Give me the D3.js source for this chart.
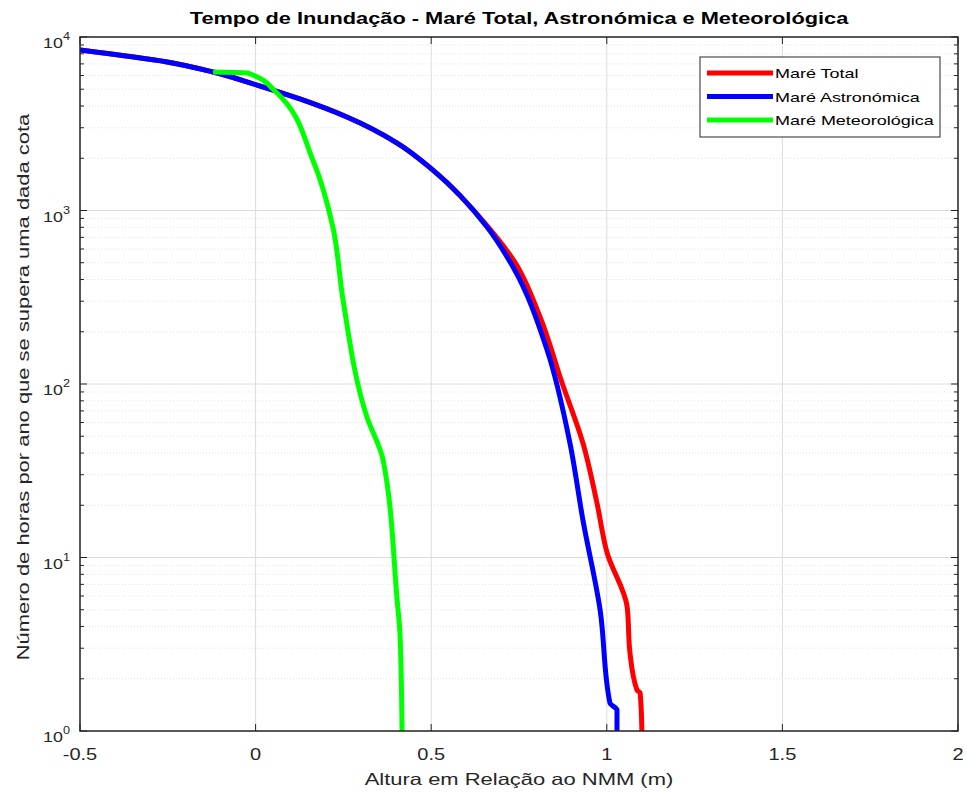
<!DOCTYPE html>
<html><head><meta charset="utf-8">
<script src="https://cdn.jsdelivr.net/npm/d3@7"></script>
<style>body{margin:0;background:#fff;} svg{display:block;font-family:"Liberation Sans",Arial,sans-serif;}</style>
</head><body>
<svg id="c" width="967" height="793"></svg>
<script>
const titleText = "Tempo de Inundação - Maré Total, Astronómica e Meteorológica";
const xLabelText = "Altura em Relação ao NMM (m)";
const yLabelText = "Número de horas por ano que se supera uma dada cota";
const seriesNames = ["Maré Total", "Maré Astronómica", "Maré Meteorológica"];
const xTicks = [-0.5, 0, 0.5, 1, 1.5, 2];
const xTickLabels = ["-0.5", "0", "0.5", "1", "1.5", "2"];
const yTickExps = [0, 1, 2, 3, 4];

// Maré Astronómica (x in m, log10 of hours per year)
const astroX = [-0.5, -0.252, -0.121, 0.004, 0.126, 0.260, 0.403, 0.505, 0.659, 0.733, 0.830, 0.895, 0.932, 0.981, 1.009, 1.029, 1.029];
const astroLog = [3.925, 3.856, 3.798, 3.723, 3.643, 3.539, 3.389, 3.233, 2.905, 2.674, 2.196, 1.660, 1.216, 0.697, 0.161, 0.121, 0.0];
// Maré Total
const totalX = [-0.5, -0.252, -0.121, 0.004, 0.126, 0.260, 0.403, 0.505, 0.660, 0.738, 0.810, 0.872, 0.932, 0.972, 1.001, 1.058, 1.066, 1.086, 1.095, 1.100];
const totalLog = [3.925, 3.856, 3.798, 3.723, 3.643, 3.539, 3.389, 3.233, 2.910, 2.703, 2.386, 2.010, 1.660, 1.314, 1.026, 0.715, 0.450, 0.236, 0.219, 0.0];
// Maré Meteorológica
const meteoX = [-0.121, -0.024, 0.061, 0.163, 0.220, 0.249, 0.317, 0.363, 0.403, 0.411, 0.417];
const meteoLog = [3.798, 3.793, 3.677, 3.291, 2.905, 2.484, 1.810, 1.562, 0.755, 0.565, 0.0];

const colors = ["#ff0000", "#0000ff", "#00ff00"];

const svg = d3.select("#c");
const L = 80, R = 958, T = 37, B = 731;
const x = d3.scaleLinear().domain([-0.5, 2]).range([L, R]);
const y = d3.scaleLog().domain([1, 10000]).range([B, T]);
const axisCol = "#262626";
const WIDEN = 1.33;
function widen(sel, k) {
  sel.each(function () {
    const w = this.getComputedTextLength();
    d3.select(this).attr("textLength", w * k).attr("lengthAdjust", "spacingAndGlyphs");
  });
  return sel;
}

// minor grid
const g = svg.append("g");
for (const e of [0, 1, 2, 3]) {
  for (let m = 2; m <= 9; m++) {
    const v = m * Math.pow(10, e);
    g.append("line").attr("x1", L).attr("x2", R).attr("y1", y(v)).attr("y2", y(v))
      .attr("stroke", "#e2e2e2").attr("stroke-width", 1).attr("stroke-dasharray", "1,2");
  }
}
// major grid
for (const e of yTickExps) {
  g.append("line").attr("x1", L).attr("x2", R).attr("y1", y(Math.pow(10, e))).attr("y2", y(Math.pow(10, e)))
    .attr("stroke", "#dcdcdc").attr("stroke-width", 1);
}
for (const t of xTicks) {
  g.append("line").attr("x1", x(t)).attr("x2", x(t)).attr("y1", T).attr("y2", B)
    .attr("stroke", "#dcdcdc").attr("stroke-width", 1);
}

// series
const line = d3.line().x(d => x(d[0])).y(d => y(Math.pow(10, d[1]))).curve(d3.curveMonotoneY);
svg.append("clipPath").attr("id", "clp").append("rect").attr("x", L).attr("y", T - 3).attr("width", R - L).attr("height", B - T + 6);
const series = [
  { name: seriesNames[0], xs: totalX, ls: totalLog, c: colors[0] },
  { name: seriesNames[1], xs: astroX, ls: astroLog, c: colors[1] },
  { name: seriesNames[2], xs: meteoX, ls: meteoLog, c: colors[2] }
];
const pg = svg.append("g").attr("clip-path", "url(#clp)");
for (const s of series) {
  pg.append("path").attr("d", line(s.xs.map((v, i) => [v, s.ls[i]])))
    .attr("fill", "none").attr("stroke", s.c).attr("stroke-width", 5).attr("stroke-linejoin", "round").attr("stroke-linecap", "butt");
}

// box
svg.append("rect").attr("x", L).attr("y", T).attr("width", R - L).attr("height", B - T)
  .attr("fill", "none").attr("stroke", axisCol).attr("stroke-width", 1.5);

// ticks
const tk = svg.append("g").attr("stroke", axisCol).attr("stroke-width", 1);
for (const t of xTicks) {
  tk.append("line").attr("x1", x(t)).attr("x2", x(t)).attr("y1", B).attr("y2", B - 7);
  tk.append("line").attr("x1", x(t)).attr("x2", x(t)).attr("y1", T).attr("y2", T + 7);
}
for (const e of yTickExps) {
  const yy = y(Math.pow(10, e));
  tk.append("line").attr("x1", L).attr("x2", L + 7).attr("y1", yy).attr("y2", yy);
  tk.append("line").attr("x1", R).attr("x2", R - 7).attr("y1", yy).attr("y2", yy);
}
for (const e of [0, 1, 2, 3]) {
  for (let m = 2; m <= 9; m++) {
    const yy = y(m * Math.pow(10, e));
    tk.append("line").attr("x1", L).attr("x2", L + 4).attr("y1", yy).attr("y2", yy);
    tk.append("line").attr("x1", R).attr("x2", R - 4).attr("y1", yy).attr("y2", yy);
  }
}

// tick labels
xTicks.forEach((t, i) => {
  const tx = svg.append("text").attr("x", x(t)).attr("y", B + 29).attr("text-anchor", "middle")
    .attr("font-size", 16).attr("fill", axisCol).text(xTickLabels[i]);
  widen(tx, 1.25);
});
for (const e of yTickExps) {
  const yy = y(Math.pow(10, e));
  const tx = svg.append("text").attr("x", L - 10).attr("y", yy + 11).attr("text-anchor", "end")
    .attr("font-size", 15.5).attr("fill", axisCol);
  tx.append("tspan").text("10");
  tx.append("tspan").attr("dy", -8).attr("font-size", 11).text(String(e));
  widen(tx, 1.15);
}

// labels
widen(svg.append("text").attr("x", (L + R) / 2).attr("y", 24).attr("text-anchor", "middle")
  .attr("font-size", 16).attr("font-weight", "bold").attr("fill", "#000").text(titleText), 1.36);
widen(svg.append("text").attr("x", (L + R) / 2).attr("y", 785).attr("text-anchor", "middle")
  .attr("font-size", 16.5).attr("fill", axisCol).text(xLabelText), WIDEN);
widen(svg.append("text").attr("transform", `translate(29,${(T + B) / 2 + 3}) rotate(-90)`).attr("text-anchor", "middle")
  .attr("font-size", 16.5).attr("fill", axisCol).text(yLabelText), WIDEN);

// legend
const lg = svg.append("g");
lg.append("rect").attr("x", 700).attr("y", 57).attr("width", 240).attr("height", 80)
  .attr("fill", "#fff").attr("stroke", axisCol).attr("stroke-width", 1);
series.forEach((s, i) => {
  const yy = 73 + i * 23.5;
  lg.append("line").attr("x1", 707).attr("x2", 773).attr("y1", yy).attr("y2", yy)
    .attr("stroke", s.c).attr("stroke-width", 5);
  widen(lg.append("text").attr("x", 775).attr("y", yy + 5).attr("font-size", 13.5).attr("fill", "#000").text(s.name), WIDEN);
});
</script>
</body></html>
